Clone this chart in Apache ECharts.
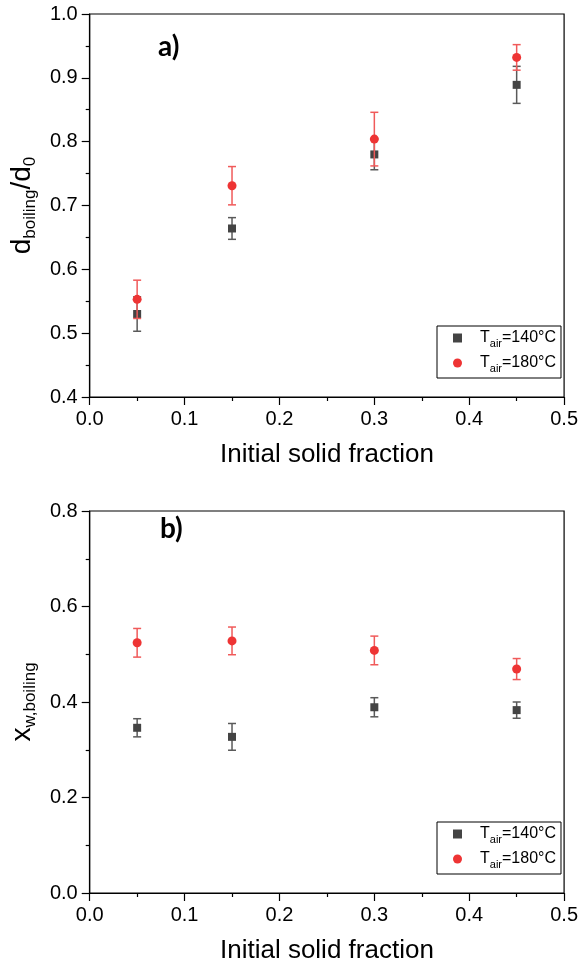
<!DOCTYPE html>
<html><head><meta charset="utf-8">
<script src="https://cdn.jsdelivr.net/npm/echarts@6/dist/echarts.min.js"></script>
<style>html,body{margin:0;padding:0;background:#fff}#c{width:581px;height:967px}</style>
</head><body><div id="c"></div>
<script>
// ---- data ----
const solidFraction = [0.05, 0.15, 0.30, 0.45];
const dRatio140 = [0.530, 0.664, 0.780, 0.889];
const dRatio140Err = [0.027, 0.017, 0.024, 0.029];
const dRatio180 = [0.553, 0.731, 0.804, 0.932];
const dRatio180Err = [0.030, 0.030, 0.042, 0.020];
const xw140 = [0.346, 0.327, 0.389, 0.383];
const xw140Err = [0.019, 0.028, 0.020, 0.017];
const xw180 = [0.524, 0.528, 0.508, 0.469];
const xw180Err = [0.030, 0.029, 0.030, 0.022];
const seriesNames = ['T140', 'T180'];
const panelLabels = ['a)', 'b)'];
const xTitle = 'Initial solid fraction';

const FONT = '"Liberation Sans", Arial, sans-serif';
const BLACK = '#444444';
const RED = '#ee3434';
const BLACK_ERR = '#5a5a5a';
const RED_ERR = '#f05a5a';

function pts(ys) { return solidFraction.map((x, i) => [x, ys[i]]); }
function errs(ys, e) { return solidFraction.map((x, i) => [x, ys[i] - e[i], ys[i] + e[i]]); }

function errRender(color) {
  return function (params, api) {
    const x = api.value(0), lo = api.value(1), hi = api.value(2);
    const pLo = api.coord([x, lo]), pHi = api.coord([x, hi]);
    const cap = 4;
    const style = { stroke: color, lineWidth: 1.5 };
    return { type: 'group', children: [
      { type: 'line', shape: { x1: pLo[0], y1: pLo[1], x2: pHi[0], y2: pHi[1] }, style },
      { type: 'line', shape: { x1: pLo[0] - cap, y1: pLo[1], x2: pLo[0] + cap, y2: pLo[1] }, style },
      { type: 'line', shape: { x1: pHi[0] - cap, y1: pHi[1], x2: pHi[0] + cap, y2: pHi[1] }, style }
    ]};
  };
}

const axisCommon = {
  axisLine: { show: true, onZero: false, lineStyle: { color: '#000', width: 1.2 } },
  axisTick: { show: true, inside: false, length: 8, lineStyle: { color: '#000', width: 1.2 } },
  minorTick: { show: true, splitNumber: 2, length: 4, lineStyle: { color: '#000', width: 1.2 } },
  splitLine: { show: false },
  axisLabel: { color: '#000', fontSize: 20, fontFamily: FONT, margin: 12, formatter: v => v.toFixed(1) }
};

function xAxis(gi) {
  return Object.assign({}, axisCommon, {
    type: 'value', gridIndex: gi, min: 0, max: 0.5, interval: 0.1,
    name: xTitle, nameLocation: 'middle', nameGap: 45,
    nameTextStyle: { color: '#000', fontSize: 26, fontFamily: FONT }
  });
}
function yAxis(gi, min, max, interval, name, gap) {
  return Object.assign({}, axisCommon, {
    type: 'value', gridIndex: gi, min, max, interval,
    name, nameLocation: 'middle', nameGap: gap, nameRotate: 90,
    nameTextStyle: {
      color: '#000', fontFamily: FONT,
      rich: {
        m: { fontSize: 28, fontFamily: FONT, color: '#000', lineHeight: 34, verticalAlign: 'middle' },
        s: { fontSize: 17, fontFamily: FONT, color: '#000', lineHeight: 14, verticalAlign: 'bottom' }
      }
    }
  });
}

function legendFor(top) {
  return {
    orient: 'vertical', left: 437, top: top,
    data: [{ name: 'T140', icon: 'rect' }, { name: 'T180', icon: 'circle' }],
    itemWidth: 9, itemHeight: 9, itemGap: 6,
    padding: [4, 5, 4, 16],
    borderColor: '#000', borderWidth: 1, borderRadius: 0,
    selectedMode: false,
    formatter: n => n === 'T140' ? '{t|T}{s|air}{t|=140°C}' : '{t|T}{s|air}{t|=180°C}',
    textStyle: {
      padding: [0, 0, 0, 13],
      rich: {
        t: { fontSize: 16, fontFamily: FONT, color: '#000', lineHeight: 22, verticalAlign: 'middle' },
        s: { fontSize: 11, fontFamily: FONT, color: '#000', lineHeight: 10, verticalAlign: 'bottom' }
      }
    }
  };
}

function panelSeries(gi, y140, e140, y180, e180) {
  return [
    { type: 'custom', xAxisIndex: gi, yAxisIndex: gi, renderItem: errRender(BLACK_ERR), data: errs(y140, e140), encode: { x: 0, y: [1, 2] }, silent: true, z: 2 },
    { type: 'scatter', name: 'T140', xAxisIndex: gi, yAxisIndex: gi, symbol: 'rect', symbolSize: 8, itemStyle: { color: BLACK, opacity: 1 }, data: pts(y140), z: 3 },
    { type: 'custom', xAxisIndex: gi, yAxisIndex: gi, renderItem: errRender(RED_ERR), data: errs(y180, e180), encode: { x: 0, y: [1, 2] }, silent: true, z: 4 },
    { type: 'scatter', name: 'T180', xAxisIndex: gi, yAxisIndex: gi, symbol: 'circle', symbolSize: 9, itemStyle: { color: RED, opacity: 1 }, data: pts(y180), z: 5 }
  ];
}

const chart = echarts.init(document.getElementById('c'), null, { renderer: 'canvas' });
chart.setOption({
  animation: false,
  backgroundColor: '#fff',
  grid: [
    { left: 89, top: 14, width: 476, height: 383, show: true, borderColor: '#000', borderWidth: 1.2, backgroundColor: 'transparent' },
    { left: 89, top: 511, width: 476, height: 382, show: true, borderColor: '#000', borderWidth: 1.2, backgroundColor: 'transparent' }
  ],
  xAxis: [xAxis(0), xAxis(1)],
  yAxis: [
    yAxis(0, 0.4, 1.0, 0.1, '{m|d}{s|boiling}{m|/d}{s|0}', 49),
    yAxis(1, 0, 0.8, 0.2, '{m|x}{s|w,boiling}', 49)
  ],
  legend: [legendFor(326), legendFor(822)],
  graphic: [
    { type: 'text', left: 158, top: 33, style: { text: panelLabels[0], font: 'bold 28px Lato, "Open Sans", sans-serif', fill: '#000' } },
    { type: 'text', left: 160, top: 515, style: { text: panelLabels[1], font: 'bold 28px Lato, "Open Sans", sans-serif', fill: '#000' } }
  ],
  series: [].concat(
    panelSeries(0, dRatio140, dRatio140Err, dRatio180, dRatio180Err),
    panelSeries(1, xw140, xw140Err, xw180, xw180Err)
  )
});
</script></body></html>
